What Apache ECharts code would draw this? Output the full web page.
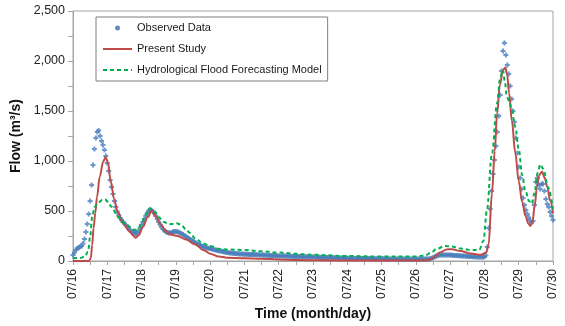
<!DOCTYPE html>
<html>
<head>
<meta charset="utf-8">
<script src="https://cdn.jsdelivr.net/npm/echarts@6/dist/echarts.min.js"></script>
<style>
html,body{margin:0;padding:0;background:#fff;}
#chart{width:565px;height:326px;}
</style>
</head>
<body>
<div id="chart"></div>
<script>
// x tick labels (one per day, 07/16 .. 07/30)
const dayLabels = ['07/16','07/17','07/18','07/19','07/20','07/21','07/22','07/23','07/24','07/25','07/26','07/27','07/28','07/29','07/30'];
const yTickLabels = ['0','500','1,000','1,500','2,000','2,500'];
const seriesNames = ['Observed Data','Present Study','Hydrological Flood Forecasting Model'];

// Observed flow (m3/s), hourly from 07/16 00:00
const obsStepHours = 1;
const obsFlow = [
 60,85,110,125,135,142,150,175,220,290,370,470,600,760,960,1120,1230,1290,1305,1250,1200,1160,1110,1050,
 980,900,810,740,670,600,540,495,460,430,410,392,375,357,340,325,310,296,285,277,275,285,300,328,
 360,390,420,452,480,500,510,508,495,475,450,420,390,362,340,320,305,293,285,280,280,284,290,294,
 295,292,287,280,272,264,255,245,236,226,216,207,198,189,180,172,164,157,151,145,140,135,131,128,
 125,121,117,113,110,106,103,100,97,94,91,88,85,83,81,79,77,75,74,73,72,71,70,69,
 68,67,67,66,66,65,65,64,63,63,62,61,60,60,59,58,57,57,56,55,54,54,53,52,
 51,51,50,50,49,49,48,48,47,47,46,46,45,45,44,44,43,43,42,42,41,41,40,40,
 39,39,38,38,37,37,36,36,35,35,34,34,33,33,32,32,31,31,30,30,30,29,29,28,
 28,28,27,27,27,26,26,26,25,25,25,25,24,24,24,24,23,23,23,23,23,22,22,22,
 22,22,22,22,21,21,21,21,21,21,21,21,20,20,20,20,20,20,20,20,20,20,20,20,
 20,20,20,20,20,20,20,20,20,21,23,27,33,40,47,53,57,59,60,60,60,60,60,59,
 59,58,57,56,55,54,53,52,51,50,49,48,47,46,45,44,43,42,42,41,41,40,40,40,
 42,55,140,330,520,700,870,1010,1150,1290,1450,1660,1900,2100,2180,2060,1960,1870,1750,1620,1500,1390,1230,1080,
 940,830,720,630,560,510,470,435,405,385,400,560,790,830,760,720,770,770,700,620,570,540,490,450,410
];

// Present study: [day offset from 07/16, flow]
const presentStudy = [
 [0,0],[0.3,0],[0.47,0],[0.52,30],[0.56,160],[0.6,330],[0.65,480],[0.7,640],[0.78,843],[0.88,993],[0.95,1040],
 [1.02,985],[1.1,800],[1.2,620],[1.3,490],[1.46,377],[1.66,293],[1.75,255],[1.83,232],[1.92,260],[2.04,343],
 [2.18,440],[2.3,505],[2.42,445],[2.55,370],[2.7,300],[2.85,265],[3.05,250],[3.3,215],[3.56,167],[3.8,110],
 [4.0,73],[4.25,45],[4.5,33],[5.0,27],[5.5,23],[6.0,16],[6.5,10],[7.94,5],[9,4],[10.2,4],[10.35,8],[10.5,30],
 [10.7,85],[10.9,115],[11.05,118],[11.3,100],[11.6,75],[11.9,62],[12.05,85],[12.12,160],[12.22,677],[12.3,1100],
 [12.37,1477],[12.45,1760],[12.54,1910],[12.61,1935],[12.66,1870],[12.72,1680],[12.8,1400],[12.9,1080],[13.0,800],
 [13.1,590],[13.2,450],[13.28,375],[13.34,350],[13.4,390],[13.47,560],[13.53,743],[13.6,860],[13.68,893],
 [13.76,830],[13.83,743],[13.92,600],[14.0,477]
];

// Hydrological flood forecasting model: [day offset from 07/16, flow]
const forecastModel = [
 [0,27],[0.2,30],[0.34,43],[0.44,93],[0.5,243],[0.56,443],[0.63,540],[0.73,580],[0.85,610],[0.93,617],[1.02,593],
 [1.12,543],[1.31,443],[1.56,360],[1.8,310],[1.9,320],[2.0,377],[2.12,460],[2.24,527],[2.3,520],[2.39,493],
 [2.5,440],[2.63,393],[2.8,368],[2.92,370],[3.02,378],[3.15,362],[3.3,315],[3.41,280],[3.56,227],[3.8,175],
 [4.0,150],[4.25,122],[4.5,115],[5.0,110],[5.5,97],[6.0,85],[6.5,73],[7.0,63],[7.94,50],[9.0,45],[10.0,45],
 [10.27,55],[10.45,85],[10.6,120],[10.85,150],[11.05,145],[11.3,125],[11.6,110],[11.85,112],[11.97,200],
 [12.07,500],[12.22,1077],[12.37,1577],[12.46,1830],[12.54,1910],[12.6,1780],[12.65,1650],[12.72,1600],
 [12.78,1540],[12.9,1340],[13.0,1120],[13.1,860],[13.19,710],[13.3,600],[13.38,570],[13.46,680],[13.55,880],
 [13.63,965],[13.72,920],[13.85,740],[14.0,520]
];

const FONT = 'Liberation Sans, Arial, sans-serif';
const obsData = obsFlow.map((v, i) => [i * obsStepHours / 24, v]);
const hiddenSymbol = {color: 'rgba(0,0,0,0)', borderWidth: 0, opacity: 0};

const chart = echarts.init(document.getElementById('chart'), null, {renderer: 'canvas'});
chart.setOption({
  animation: false,
  backgroundColor: '#fff',
  textStyle: {fontFamily: FONT},
  grid: {left: 73, right: 12, top: 11, bottom: 65, show: true, borderColor: '#a6a6a6', borderWidth: 1},
  legend: {
    orient: 'vertical', left: 96, top: 17,
    padding: [4, 6, 4, 6], itemGap: 7, itemWidth: 29, itemHeight: 5,
    borderColor: '#7f7f7f', borderWidth: 1, backgroundColor: '#fff',
    textStyle: {fontSize: 11, color: '#1a1a1a', fontFamily: FONT, lineHeight: 14},
    data: [
      {name: seriesNames[0], icon: 'circle', itemStyle: {color: '#3F6FAE'}},
      {name: seriesNames[1], itemStyle: hiddenSymbol},
      {name: seriesNames[2], itemStyle: hiddenSymbol}
    ]
  },
  xAxis: {
    type: 'value', min: 0, max: 14, interval: 1,
    name: 'Time (month/day)', nameLocation: 'middle', nameGap: 42,
    nameTextStyle: {fontSize: 14, fontWeight: 'bold', color: '#111', fontFamily: FONT},
    axisLine: {show: true, lineStyle: {color: '#a6a6a6'}},
    axisTick: {show: true, length: 4, lineStyle: {color: '#a6a6a6'}},
    minorTick: {show: true, splitNumber: 2, length: 4, lineStyle: {color: '#a6a6a6'}},
    splitLine: {show: false},
    axisLabel: {rotate: 90, margin: 8, fontSize: 12, color: '#222', fontFamily: FONT,
      formatter: v => dayLabels[Math.round(v)] || ''}
  },
  yAxis: {
    type: 'value', min: 0, max: 2500, interval: 500,
    name: 'Flow (m³/s)', nameLocation: 'middle', nameGap: 46, nameRotate: 90,
    nameTextStyle: {fontSize: 14, fontWeight: 'bold', color: '#111', fontFamily: FONT},
    axisLine: {show: true, lineStyle: {color: '#a6a6a6'}},
    axisTick: {show: true, length: 5, lineStyle: {color: '#a6a6a6'}},
    minorTick: {show: true, splitNumber: 2, length: 5, lineStyle: {color: '#a6a6a6'}},
    splitLine: {show: false},
    axisLabel: {margin: 8, fontSize: 12.5, color: '#222', fontFamily: FONT,
      formatter: v => yTickLabels[Math.round(v / 500)] || ''}
  },
  series: [
    {
      name: seriesNames[0], type: 'scatter', data: obsData,
      symbol: 'path://M1.5,0H3.5V1.5H5V3.5H3.5V5H1.5V3.5H0V1.5H1.5Z', symbolSize: 5,
      itemStyle: {color: '#4A7EBB'}, z: 2
    },
    {
      name: seriesNames[1], type: 'line', data: presentStudy,
      smooth: 0.35, smoothMonotone: 'x', showSymbol: false, symbol: 'none',
      lineStyle: {color: '#BE4B48', width: 2}, itemStyle: {color: '#BE4B48'}, z: 3
    },
    {
      name: seriesNames[2], type: 'line', data: forecastModel,
      smooth: 0.35, smoothMonotone: 'x', showSymbol: false, symbol: 'none',
      lineStyle: {color: '#00B050', width: 2, type: [4, 3]}, itemStyle: {color: '#00B050'}, z: 4
    }
  ]
});
</script>
</body>
</html>
